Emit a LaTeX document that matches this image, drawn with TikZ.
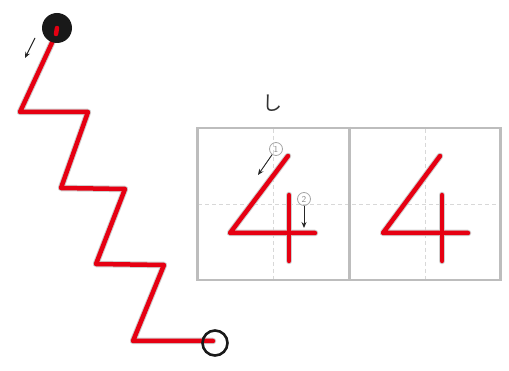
\documentclass[tikz,border=0pt]{standalone}
\usepackage{fontspec}
\newfontfamily\cjk{Noto Sans CJK JP}
\usetikzlibrary{arrows.meta}
\definecolor{strokered}{HTML}{E60012}
\definecolor{shadegray}{HTML}{CFCFCF}
\definecolor{boxgray}{HTML}{BDBDBD}
\definecolor{dashgray}{HTML}{D8D8D8}
\tikzset{
  redline/.style={line width=4.5pt, draw=strokered, line cap=round, line join=round},
  shadowline/.style={line width=6.5pt, draw=shadegray, line cap=round, line join=round, shift={(2,2)}},
  guide/.style={draw=dashgray, line width=0.9pt, dash pattern=on 4pt off 3pt},
  frame/.style={draw=boxgray, line width=2.6pt},
  hint/.style={-{Stealth[length=6pt,width=5pt]}, line width=0.9pt, draw=black!85, fill=black!85},
  numcirc/.style={circle, draw=gray!70, line width=0.8pt, inner sep=0pt, minimum size=13pt, font=\sffamily\fontsize{9}{9}\selectfont, text=gray!90},
}
\begin{document}
\begin{tikzpicture}[x=1pt,y=-1pt]
\useasboundingbox (0,0) rectangle (509,371);
% zigzag path
\coordinate (z0) at (56,34);
\coordinate (z1) at (20,112);
\coordinate (z2) at (88,112);
\coordinate (z3) at (61,188);
\coordinate (z4) at (125,189);
\coordinate (z5) at (96,264);
\coordinate (z6) at (164,265);
\coordinate (z7) at (133,341);
\coordinate (z8) at (213,341);
\draw[shadowline] (z0) -- (z1) -- (z2) -- (z3) -- (z4) -- (z5) -- (z6) -- (z7) -- (z8);
\draw[redline] (z0) -- (z1) -- (z2) -- (z3) -- (z4) -- (z5) -- (z6) -- (z7) -- (z8);
\node[circle, fill=black!90, minimum size=30pt, inner sep=0pt] (start) at (57,28) {};
\draw[redline] (z0) -- (start.center);
\node[circle, draw=black!90, line width=2.6pt, minimum size=25pt, inner sep=0pt] (finish) at (215,343) {};
\coordinate (a0) at (35,38);
\coordinate (a1) at (25,58);
\draw[hint] (a0) -- (a1);
% grid
\draw[guide] (273.5,129) -- (273.5,279);
\draw[guide] (425.5,129) -- (425.5,279);
\draw[guide] (198,204) -- (500,204);
\node[draw=boxgray, line width=2.6pt, minimum width=303pt, minimum height=152pt, inner sep=0pt] (box) at (349.25,204) {};
\draw[frame] (box.north) -- (box.south);
% left 4
\coordinate (l1) at (288,156);
\coordinate (l2) at (230,233);
\coordinate (l3) at (315,233);
\coordinate (l4) at (289,195);
\coordinate (l5) at (289,261);
\draw[shadowline] (l1) -- (l2) -- (l3);
\draw[shadowline] (l4) -- (l5);
\draw[redline] (l1) -- (l2) -- (l3);
\draw[redline] (l4) -- (l5);
% right 4
\coordinate (r1) at (440,156);
\coordinate (r2) at (383,233);
\coordinate (r3) at (468,233);
\coordinate (r4) at (442,195);
\coordinate (r5) at (442,261);
\draw[shadowline] (r1) -- (r2) -- (r3);
\draw[shadowline] (r4) -- (r5);
\draw[redline] (r1) -- (r2) -- (r3);
\draw[redline] (r4) -- (r5);
% stroke order hints
\node[numcirc] (n1) at (276,149) {1};
\node[numcirc] (n2) at (304,199) {2};
\coordinate (h1) at (258,175);
\coordinate (h2) at (304,228);
\draw[hint] (n1) -- (h1);
\draw[hint] (n2) -- (h2);
% reading
\node[font=\cjk\fontsize{20}{20}\selectfont, text=black!80] (kana) at (272,103) {し};
\end{tikzpicture}
\end{document}
